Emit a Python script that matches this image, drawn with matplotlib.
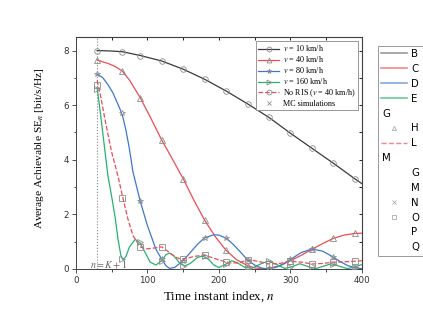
import matplotlib
matplotlib.use('Agg')
import matplotlib.pyplot as plt
from matplotlib.lines import Line2D

plt.rcParams['font.family'] = ['DejaVu Sans']
plt.rcParams['mathtext.fontset'] = 'stix'
SERIF = ['Liberation Serif', 'DejaVu Serif']

# ---------------- data ----------------
n_v10 = [30, 45, 65, 90, 120, 150, 180, 210, 240, 270, 300, 330, 360, 390, 400]
se_v10 = [8.0, 7.99, 7.96, 7.82, 7.62, 7.32, 6.95, 6.52, 6.05, 5.55, 4.97, 4.42, 3.87, 3.30, 3.12]

n_v40 = [30, 45, 55, 65, 75, 90, 105, 120, 133, 150, 165, 180, 195, 210, 225, 240, 250, 260,
         270, 285, 300, 315, 330, 345, 360, 375, 390, 400]
se_v40 = [7.65, 7.53, 7.42, 7.25, 6.92, 6.28, 5.52, 4.73, 4.12, 3.31, 2.52, 1.79, 1.18, 0.68,
          0.33, 0.12, 0.04, 0.0, 0.02, 0.12, 0.30, 0.50, 0.72, 0.93, 1.12, 1.24, 1.30, 1.31]

n_v80 = [30, 38, 45, 52, 57, 62, 66, 70, 75, 80, 90, 100, 112, 120, 126, 131, 138, 150, 160, 170,
         180, 193, 200, 210, 220, 230, 240, 250, 260, 269, 280, 290, 300, 315, 330, 345, 360,
         370, 380, 390, 400]
se_v80 = [7.14, 7.0, 6.75, 6.45, 6.15, 5.85, 5.55, 5.1, 4.4, 3.55, 2.49, 1.6, 0.72, 0.36, 0.12,
          0.02, 0.05, 0.3, 0.6, 0.9, 1.14, 1.25, 1.24, 1.13, 0.9, 0.62, 0.33, 0.14, 0.03, 0.0,
          0.06, 0.18, 0.35, 0.6, 0.73, 0.65, 0.43, 0.26, 0.12, 0.04, 0.01]

n_v160 = [30, 35, 40, 45, 50, 55, 59, 63, 66, 70, 75, 83, 90, 97, 104, 112, 120, 126, 131, 137,
          145, 152, 160, 170, 178, 186, 193, 200, 210, 218, 226, 236, 246, 258, 269, 280, 292,
          302, 313, 324, 335, 346, 357, 368, 380, 390, 400]
se_v160 = [6.63, 5.6, 4.5, 3.41, 2.68, 1.9, 1.1, 0.5, 0.33, 0.45, 0.8, 1.08, 0.95, 0.6, 0.25,
           0.14, 0.3, 0.52, 0.58, 0.48, 0.22, 0.1, 0.2, 0.42, 0.47, 0.34, 0.14, 0.05, 0.18, 0.3,
           0.22, 0.06, 0.02, 0.18, 0.29, 0.17, 0.02, 0.08, 0.19, 0.09, 0.01, 0.1, 0.19, 0.1,
           0.01, 0.08, 0.16]

n_noris = [30, 35, 41, 50, 59, 66, 73, 80, 90, 98, 108, 120, 131, 140, 147, 155, 165, 179, 190,
           200, 215, 228, 240, 255, 270, 285, 300, 315, 330, 345, 360, 375, 390, 400]
se_noris = [6.9, 6.3, 5.46, 4.3, 3.4, 2.59, 1.82, 1.22, 0.81, 0.73, 0.76, 0.81, 0.6, 0.42, 0.36,
            0.38, 0.46, 0.5, 0.42, 0.33, 0.22, 0.22, 0.33, 0.28, 0.18, 0.2, 0.28, 0.25, 0.18,
            0.2, 0.25, 0.26, 0.28, 0.3]

# Monte-Carlo markers
n_mc = [30, 65, 90, 120, 150, 180, 210, 240, 270, 300, 330, 360, 390]
mc_v10 = [8.0, 7.96, 7.81, 7.62, 7.32, 6.95, 6.52, 6.05, 5.55, 4.97, 4.42, 3.87, 3.30]
mc_v40 = [7.65, 7.25, 6.28, 4.73, 3.31, 1.79, 0.68, 0.12, 0.02, 0.30, 0.72, 1.12, 1.30]
mc_v80 = [7.14, 5.71, 2.49, 0.36, 0.30, 1.14, 1.13, 0.33, 0.0, 0.35, 0.73, 0.43, 0.04]
mc_v160 = [6.6, 0.35, 0.98, 0.30, 0.10, 0.46, 0.18, 0.02, 0.29, 0.08, 0.09, 0.19, 0.08]
mc_noris = [6.75, 2.59, 0.81, 0.81, 0.36, 0.50, 0.27, 0.33, 0.18, 0.28, 0.18, 0.25, 0.28]

labels_main = [r'$v$ = 10 km/h', r'$v$ = 40 km/h', r'$v$ = 80 km/h', r'$v$ = 160 km/h',
               r'No RIS ($v$ = 40 km/h)', 'MC simulations']
labels_extra = ['B', 'C', 'D', 'E', '', 'H', 'L', '', 'G', 'M', 'N', 'O', 'P', 'Q']
n_start = 30
ann_text = r'$n = K + 1$'

# ---------------- style ----------------
c_black = '#3a3a3a'
c_red = '#ee4b55'
c_blue = '#3f78c9'
c_green = '#27b272'
mk_col = '#8c8c8c'

fig = plt.figure(figsize=(4.23, 3.24), dpi=100)
ax = fig.add_axes([0.179, 0.170, 0.677, 0.716])

series = [
    (n_v10, se_v10, n_mc, mc_v10, c_black, '-', 'o'),
    (n_v40, se_v40, n_mc, mc_v40, c_red, '-', '^'),
    (n_v80, se_v80, n_mc, mc_v80, c_blue, '-', '*'),
    (n_v160, se_v160, n_mc, mc_v160, c_green, '-', '>'),
    (n_noris, se_noris, n_mc, mc_noris, c_red, '--', 's'),
]
for xs, ys, xm, ym, col, ls, mk in series:
    ax.plot(xs, ys, color=col, ls=ls, lw=0.9, zorder=3)
    ax.plot(xm, ym, ls='none', marker=mk, mfc='none', mec=mk_col, mew=0.6, ms=4, zorder=4)

ax.axvline(n_start, color='#888888', ls=':', lw=0.8, zorder=1)
ax.text(46, 0.16, ann_text, fontsize=7.2, family=SERIF, color='#666666', ha='center', va='center')

ax.set_xlim(0, 400)
ax.set_ylim(0, 8.5)
ax.set_xticks([0, 100, 200, 300, 400])
ax.set_xticks([50, 150, 250, 350], minor=True)
ax.set_yticks([0, 2, 4, 6, 8])
ax.set_yticks([1, 3, 5, 7], minor=True)
ax.tick_params(which='major', direction='out', length=3, width=0.6, labelsize=6.3, pad=2,
               colors='#333333')
ax.tick_params(which='minor', direction='out', length=1.8, width=0.5)
for s in ax.spines.values():
    s.set_linewidth(0.7)
    s.set_color('#444444')

secx = ax.secondary_xaxis('top')
secx.set_xticks(list(range(0, 401, 50)))
secx.set_xticklabels([])
secx.tick_params(direction='in', length=2.5, width=0.6)
secy = ax.secondary_yaxis('right')
secy.set_yticks(list(range(0, 9)))
secy.set_yticklabels([])
secy.tick_params(direction='in', length=2.5, width=0.6)

ax.set_xlabel(r'Time instant index, $n$', family=SERIF, fontsize=9.4, labelpad=3)
ax.set_ylabel(r'Average Achievable SE$_n$ [bit/s/Hz]', family=SERIF, fontsize=8.2)
ax.yaxis.set_label_coords(-0.105, 0.52)

# main legend
handles = [
    Line2D([], [], color=c_black, lw=0.9, marker='o', mfc='none', mec=mk_col, mew=0.6, ms=3.5),
    Line2D([], [], color=c_red, lw=0.9, marker='^', mfc='none', mec=mk_col, mew=0.6, ms=3.5),
    Line2D([], [], color=c_blue, lw=0.9, marker='*', mfc='none', mec=mk_col, mew=0.6, ms=3.5),
    Line2D([], [], color=c_green, lw=0.9, marker='>', mfc='none', mec=mk_col, mew=0.6, ms=3.5),
    Line2D([], [], color=c_red, lw=0.9, ls='--', marker='o', mfc='none', mec=mk_col, mew=0.6, ms=3.5),
    Line2D([], [], color=mk_col, ls='none', marker='x', mew=0.6, ms=3.5),
]
leg = ax.legend(handles, labels_main, loc='upper right', prop={'family': SERIF, 'size': 5.9},
                frameon=True, fancybox=False, edgecolor='#888888', framealpha=1,
                handlelength=2.6, handletextpad=0.4, labelspacing=0.12, borderpad=0.3,
                borderaxespad=0.5)
leg.get_frame().set_linewidth(0.6)

# extra legend outside
extra_handles = [
    Line2D([], [], color='#9a9a9a', lw=1.2),
    Line2D([], [], color='#f4868c', lw=1.2),
    Line2D([], [], color='#82a8e0', lw=1.2),
    Line2D([], [], color='#6cc999', lw=1.2),
    Line2D([], [], ls='none'),
    Line2D([], [], ls='none', marker='^', mfc='none', mec='#aaaaaa', mew=0.6, ms=3),
    Line2D([], [], color='#f4868c', lw=1.0, ls='--'),
    Line2D([], [], ls='none'),
    Line2D([], [], ls='none'),
    Line2D([], [], ls='none'),
    Line2D([], [], ls='none', marker='x', mec='#aaaaaa', mew=0.6, ms=3),
    Line2D([], [], ls='none', marker='s', mfc='none', mec='#aaaaaa', mew=0.6, ms=2.5),
    Line2D([], [], ls='none'),
    Line2D([], [], ls='none'),
]
leg2 = fig.legend(extra_handles, labels_extra, loc='upper left',
                  bbox_to_anchor=(377.5 / 423, 1 - 45.5 / 324), fontsize=7.3,
                  frameon=True, fancybox=False, edgecolor='#999999', framealpha=1,
                  handlelength=2.6, handletextpad=0.4, labelspacing=0.48, borderpad=0.35,
                  borderaxespad=0)
leg2.get_frame().set_linewidth(0.7)
fig.text(386 / 423, 1 - 114 / 324, 'G', fontsize=7.3, ha='center', va='center', zorder=20)
fig.text(386 / 423, 1 - 158 / 324, 'M', fontsize=7.3, ha='center', va='center', zorder=20)

fig.savefig('out.png', dpi=100)
